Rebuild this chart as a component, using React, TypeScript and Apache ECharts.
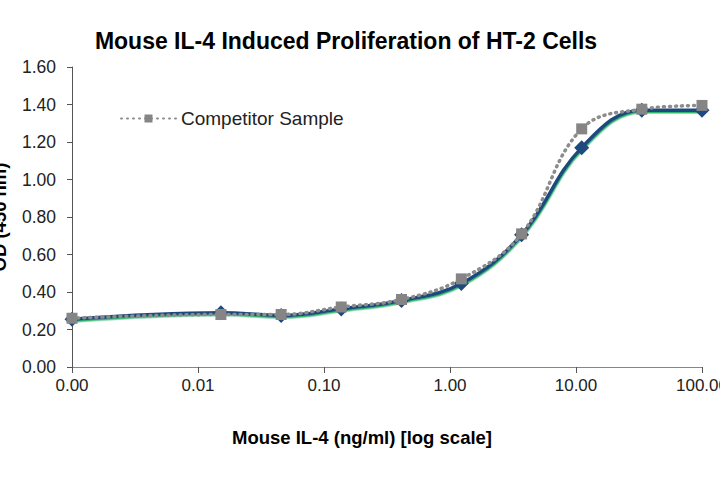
import React, { useEffect, useRef } from 'react';
import * as echarts from 'echarts';

// dose (ng/ml) — first point is the blank, plotted at the axis start
const doses = [0.001, 0.0152, 0.0457, 0.137, 0.412, 1.23, 3.7, 11.1, 33.3, 100];
const sampleOD = [0.255, 0.29, 0.275, 0.31, 0.355, 0.445, 0.705, 1.17, 1.37, 1.37];
const competitorOD = [0.26, 0.28, 0.28, 0.32, 0.36, 0.47, 0.71, 1.27, 1.375, 1.395];

const FONT = '"Liberation Sans", Arial, sans-serif';

export default function App() {
  const chartRef = useRef<HTMLDivElement>(null);

  useEffect(() => {
    if (!chartRef.current) return;
    const chart = echarts.init(chartRef.current, undefined, { renderer: 'svg' });

    const option = {
      animation: false,
      backgroundColor: '#ffffff',
      textStyle: { fontFamily: FONT },
      title: [
        {
          text: 'Mouse IL-4 Induced Proliferation of HT-2 Cells',
          left: 341,
          top: 24,
          textAlign: 'center',
          textStyle: { fontFamily: FONT, fontSize: 23, fontWeight: 'bold', color: '#000' }
        },
        {
          text: 'Mouse IL-4 (ng/ml) [log scale]',
          left: 357,
          top: 423,
          textAlign: 'center',
          textStyle: { fontFamily: FONT, fontSize: 18.5, fontWeight: 'bold', color: '#000' }
        }
      ],
      legend: {
        left: 115,
        top: 104,
        itemWidth: 55,
        itemHeight: 10,
        data: ['Competitor Sample'],
        textStyle: { fontFamily: FONT, fontSize: 19, color: '#222' }
      },
      grid: { left: 72, right: 18, top: 67, bottom: 113, outerBoundsMode: 'none', containLabel: false },
      xAxis: {
        type: 'log',
        logBase: 10,
        min: 0.001,
        max: 100,
        splitLine: { show: false },
        minorTick: { show: false },
        axisLine: { lineStyle: { color: '#7f8a86', width: 1 } },
        axisTick: { show: true, length: 6, lineStyle: { color: '#555' } },
        axisLabel: {
          margin: 10,
          fontSize: 17,
          color: '#222',
          fontFamily: FONT,
          formatter: (v: number) => v.toFixed(2)
        }
      },
      yAxis: {
        type: 'value',
        min: 0,
        max: 1.6,
        interval: 0.2,
        name: 'OD (450 nm)',
        nameLocation: 'middle',
        nameGap: 63,
        nameTextStyle: { fontFamily: FONT, fontSize: 18.5, fontWeight: 'bold', color: '#000' },
        splitLine: { show: false },
        axisLine: { show: true, lineStyle: { color: '#555', width: 1 } },
        axisTick: { show: true, length: 5, lineStyle: { color: '#555' } },
        axisLabel: {
          margin: 16,
          fontSize: 17.5,
          color: '#222',
          fontFamily: FONT,
          formatter: (v: number) => v.toFixed(2)
        }
      },
      series: [
        {
          name: 'Sample',
          type: 'line',
          smooth: 0.4,
          data: doses.map((d, i) => [d, sampleOD[i]]),
          symbol: 'diamond',
          symbolSize: 15,
          itemStyle: { color: '#1f4a7e' },
          lineStyle: {
            color: '#1f4a7e',
            width: 3.5,
            shadowColor: '#2fb56a',
            shadowBlur: 1,
            shadowOffsetX: 0.5,
            shadowOffsetY: 1.5
          },
          z: 2
        },
        {
          name: 'Competitor Sample',
          type: 'line',
          smooth: 0.4,
          data: doses.map((d, i) => [d, competitorOD[i]]),
          symbol: 'rect',
          symbolSize: 11,
          itemStyle: { color: '#858585' },
          lineStyle: { color: '#8c8c8c', width: 3.5, type: [1, 5], cap: 'round' },
          z: 3
        }
      ]
    };

    chart.setOption(option);
    return () => {
      chart.dispose();
    };
  }, []);

  return (
    <div
      ref={chartRef}
      style={{ position: 'fixed', left: 0, top: 0, width: 720, height: 480 }}
    />
  );
}
